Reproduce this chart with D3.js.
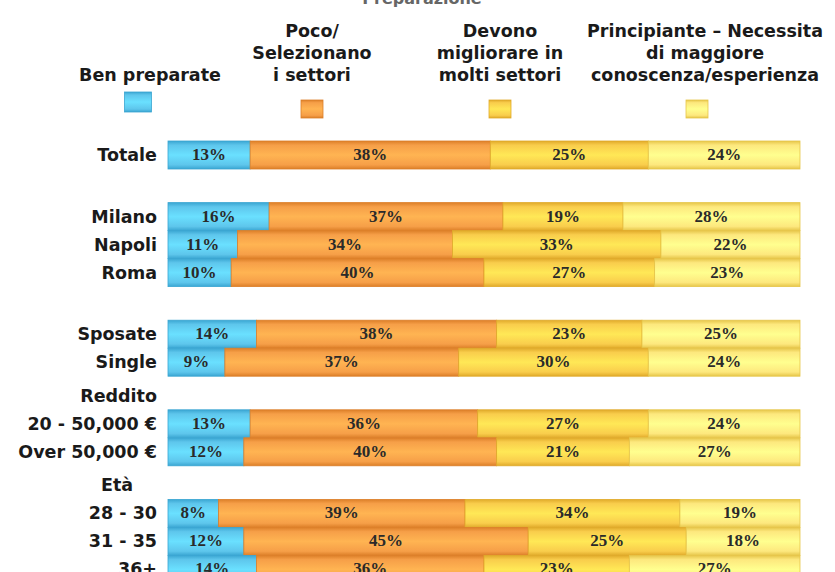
<!DOCTYPE html>
<html>
<head>
<meta charset="utf-8">
<script src="https://cdn.jsdelivr.net/npm/d3@7"></script>
<style>
body { margin: 0; background: #fff; }
</style>
</head>
<body>
<script>
// data
var seriesNames = [
	['Ben preparate'],
	['Poco/', 'Selezionano', 'i settori'],
	['Devono', 'migliorare in', 'molti settori'],
	['Principiante \u2013 Necessita', 'di maggiore', 'conoscenza/esperienza']
];
var groupHeaders = [null, null, null, 'Reddito', 'Et\u00e0'];
var groupRows = [
	['Totale'],
	['Milano', 'Napoli', 'Roma'],
	['Sposate', 'Single'],
	['20 - 50,000 \u20ac', 'Over 50,000 \u20ac'],
	['28 - 30', '31 - 35', '36+']
];
var benPreparate = [13, 16, 11, 10, 14, 9, 13, 12, 8, 12, 14];
var pocoSelezionano = [38, 37, 34, 40, 38, 37, 36, 40, 39, 45, 36];
var devonoMigliorare = [25, 19, 33, 27, 23, 30, 27, 21, 34, 25, 23];
var principiante = [24, 28, 22, 23, 25, 24, 24, 27, 19, 18, 27];

var width = 835, height = 572;
var barLeft = 168, barRight = 800;
var barTop = 141, step = 28, gapSlots = 1.2;

var colors = ['#5ec6ec', '#f69f48', '#f9cd4c', '#fde87e'];
var darker = ['#3aa6d2', '#dc7f28', '#e0aa2a', '#e6c64a'];
var labelFont = 'DejaVu Sans, Verdana, sans-serif';

// flatten rows, slot index keeps a gap between groups
var rows = [];
groupRows.forEach(function(g, gi) {
	g.forEach(function(name) {
		var i = rows.length;
		rows.push({
			name: name, group: gi, slot: i + gi * gapSlots,
			values: [benPreparate[i], pocoSelezionano[i], devonoMigliorare[i], principiante[i]]
		});
	});
});
var lastSlot = rows[rows.length - 1].slot + 1;

var x = d3.scaleLinear().domain([0, 100]).range([barLeft, barRight]);
var y = d3.scaleLinear().domain([0, lastSlot]).range([barTop, barTop + lastSlot * step]);

var svg = d3.select('body').append('svg').attr('width', width).attr('height', height);

var defs = svg.append('defs');
colors.forEach(function(c, i) {
	var grad = defs.append('linearGradient').attr('id', 'g' + i)
		.attr('x1', 0).attr('y1', 0).attr('x2', 0).attr('y2', 1);
	grad.append('stop').attr('offset', '0%').attr('stop-color', darker[i]);
	grad.append('stop').attr('offset', '15%').attr('stop-color', c);
	grad.append('stop').attr('offset', '50%').attr('stop-color', d3.color(c).brighter(0.35));
	grad.append('stop').attr('offset', '85%').attr('stop-color', c);
	grad.append('stop').attr('offset', '100%').attr('stop-color', darker[i]);
});

// cut-off title at the very top
svg.append('text').text('Preparazione')
	.attr('x', 422).attr('y', 4)
	.attr('text-anchor', 'middle')
	.attr('fill', '#666')
	.style('font-family', labelFont).style('font-weight', 'bold')
	.style('font-size', 16);

// legend
var legendX = [150, 312, 500, 705];
var swatchX = [138, 312, 500, 697];
seriesNames.forEach(function(lines, i) {
	var t = svg.append('text')
		.attr('text-anchor', 'middle')
		.attr('fill', '#1a1a1a')
		.style('font-family', labelFont).style('font-weight', 'bold')
		.style('font-size', 17.5);
	lines.forEach(function(line, j) {
		t.append('tspan').text(line)
			.attr('x', legendX[i])
			.attr('y', 81 - (lines.length - 1 - j) * 22);
	});
	var sw = i == 0 ? [27, 20, 92] : [22, 18, 100];
	svg.append('rect')
		.attr('x', swatchX[i] - sw[0] / 2).attr('y', sw[2])
		.attr('width', sw[0]).attr('height', sw[1])
		.style('fill', 'url(#g' + i + ')')
		.attr('stroke', darker[i]).attr('stroke-width', 0.8);
});

// bars
var rowG = svg.selectAll('g.row').data(rows).enter().append('g').attr('class', 'row');

rowG.each(function(r) {
	var g = d3.select(this);
	var acc = 0;
	r.values.forEach(function(v, k) {
		var x0 = x(acc), x1 = x(acc + v);
		g.append('rect')
			.attr('x', x0).attr('y', y(r.slot))
			.attr('width', x1 - x0).attr('height', y(r.slot + 1) - y(r.slot))
			.style('fill', 'url(#g' + k + ')')
			.attr('stroke', darker[k]).attr('stroke-width', 0.8);
		g.append('text').text(v + '%')
			.attr('x', (x0 + x1) / 2)
			.attr('y', y(r.slot + 0.5) + 5)
			.attr('text-anchor', 'middle')
			.attr('fill', '#2a2a2a')
			.style('font-family', 'Liberation Serif, Times New Roman, serif')
			.style('font-weight', 'bold')
			.style('font-size', 17);
		acc += v;
	});
	g.append('text').text(r.name)
		.attr('x', 157)
		.attr('y', y(r.slot + 0.5) + 6)
		.attr('text-anchor', 'end')
		.attr('fill', '#1a1a1a')
		.style('font-family', labelFont).style('font-weight', 'bold')
		.style('font-size', 17.5);
});

// group headers above the first row of the group
groupHeaders.forEach(function(h, gi) {
	if (!h) return;
	var first = rows.filter(function(r) { return r.group == gi; })[0];
	svg.append('text').text(h)
		.attr('x', gi == 4 ? 117 : 157)
		.attr('y', y(first.slot - 0.5) + 6)
		.attr('text-anchor', gi == 4 ? 'middle' : 'end')
		.attr('fill', '#1a1a1a')
		.style('font-family', labelFont).style('font-weight', 'bold')
		.style('font-size', 17.5);
});
</script>
</body>
</html>
